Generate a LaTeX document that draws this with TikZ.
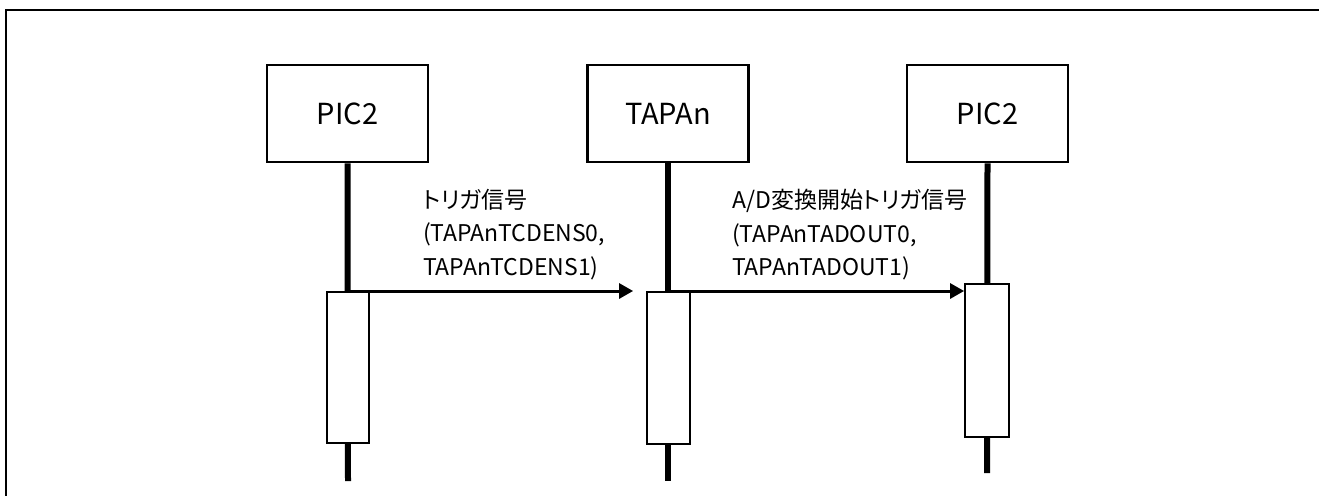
\documentclass[tikz,border=0pt]{standalone}
\usepackage{fontspec}
\setmainfont{Noto Sans CJK JP}[RawFeature=+palt]
\usetikzlibrary{arrows.meta}
\begin{document}
\begin{tikzpicture}[x=1pt,y=-1pt,
  objbox/.style={draw,line width=2.8pt,minimum width=161pt,minimum height=97pt,inner sep=0pt,font=\fontsize{29}{34}\selectfont},
  actbox/.style={draw,fill=white,line width=1.8pt,inner sep=0pt},
  lifeline/.style={line width=6pt},
  msg/.style={line width=3pt,-{Triangle[length=14pt,width=15pt]}},
  msglabel/.style={anchor=north west,inner sep=0pt,align=left,font=\fontsize{23}{33.5}\selectfont}]
\useasboundingbox (0,0) rectangle (1319,495);
% outer frame (cut by the picture edges at right and bottom)
\draw[line width=2pt] (6,510) -- (6,10) -- (1330,10);
% objects
\node[objbox] (o1) at (347.5,113.5) {PIC2};
\node[objbox] (o2) at (668,113.5) {TAPAn};
\node[objbox] (o3) at (987.5,113.5) {PIC2};
% lifeline ends
\coordinate (e1) at (348,481);
\coordinate (e2) at (668,481);
\coordinate (e3) at (987,473);
\draw[lifeline] (o1.south) -- (e1);
\draw[lifeline] (o2.south) -- (e2);
\draw[lifeline] (o3.south) -- (e3);
% activation boxes
\node[actbox,minimum width=42pt,minimum height=151pt] (a1) at (348,367.5) {};
\node[actbox,minimum width=43pt,minimum height=152pt] (a2) at (668.5,368) {};
\node[actbox,minimum width=44pt,minimum height=153pt] (a3) at (987,360.5) {};
% messages
\coordinate (s1) at (348,291);
\coordinate (s2) at (668,291);
\draw[msg,shorten >=13pt] (s1) -- (a2.west |- s1);
\draw[msg] (s2) -- (a3.west |- s2);
% labels
\node[msglabel] (l1) at (423,189) {トリガ信号\\(TAPAnTCDENS0,\\TAPAnTCDENS1)};
\node[msglabel] (l2) at (732,189) {A/D変換開始トリガ信号\\(TAPAnTADOUT0,\\TAPAnTADOUT1)};
\end{tikzpicture}
\end{document}
